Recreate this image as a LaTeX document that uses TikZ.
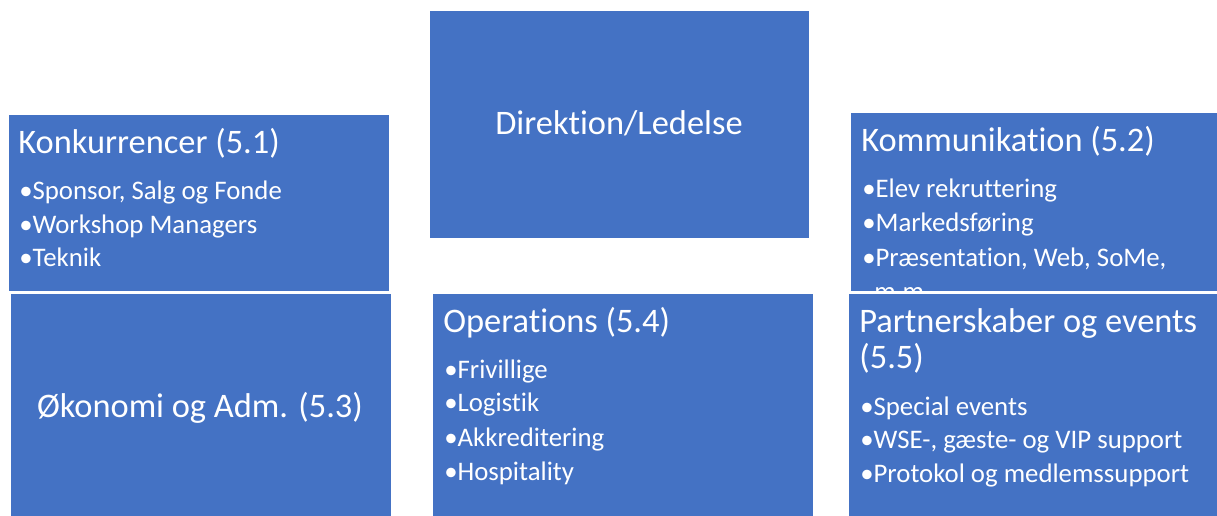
\documentclass[tikz,border=0pt]{standalone}
\usepackage{fontspec}
\setmainfont{Carlito}[Ligatures=NoCommon]
\usepackage{xcolor}
\usetikzlibrary{positioning}

\definecolor{boxblue}{HTML}{4472C4}
\newcommand{\blt}{\makebox[6.6pt][l]{•}}

\tikzset{
    box/.style={fill=boxblue, draw=white, line width=0.5pt, anchor=north west, inner sep=0pt},
    title/.style={text=white, inner sep=0pt, anchor=base west, font=\fontsize{17.2}{21}\selectfont},
    item/.style={text=white, inner sep=0pt, anchor=base west, font=\fontsize{13.4}{16}\selectfont}
}

\begin{document}
\begin{tikzpicture}[x=0.5pt, y=-0.5pt]
    \useasboundingbox (0,0) rectangle (1217,515);

    % Direktion
    \node[box, minimum width=190pt, minimum height=114pt] (dir) at (429,10) {};
    \node[title, anchor=base] (dir-t) at (619,134) {Direktion/Ledelse};

    % Konkurrencer
    \node[box, minimum width=190.5pt, minimum height=88.5pt] (konk) at (8,114) {};
    \node[title] (konk-t) at (18,153) {Konkurrencer (5.1)};
    \node[item] (konk-1) at (19,199) {\blt Sponsor, Salg og Fonde};
    \node[item] (konk-2) at (19,233) {\blt Workshop Managers};
    \node[item] (konk-3) at (19,266) {\blt Teknik};

    % Kommunikation
    \node[box, minimum width=190pt, minimum height=89.5pt] (komm) at (850,112) {};
    \begin{scope}
        \clip (850,112) rectangle (1217,291);
        \node[title] (komm-t) at (861,151) {Kommunikation (5.2)};
        \node[item] (komm-1) at (862,197) {\blt Elev rekruttering};
        \node[item] (komm-2) at (862,231) {\blt Markedsføring};
        \node[item] (komm-3) at (862,266) {\blt Præsentation, Web, SoMe,};
        \node[item] (komm-4) at (874,300) {m.m.};
    \end{scope}

    % Oekonomi
    \node[box, minimum width=190.5pt, minimum height=115pt] (oko) at (10,293) {};
    \node[title, anchor=base] (oko-t) at (200,417) {Økonomi og Adm. (5.3)};

    % Operations
    \node[box, minimum width=190.5pt, minimum height=115pt] (oper) at (432,293) {};
    \node[title] (oper-t) at (443,332) {Operations (5.4)};
    \node[item] (oper-1) at (444,378) {\blt Frivillige};
    \node[item] (oper-2) at (444,411) {\blt Logistik};
    \node[item] (oper-3) at (444,446) {\blt Akkreditering};
    \node[item] (oper-4) at (444,480) {\blt Hospitality};

    % Partnerskaber
    \node[box, minimum width=190pt, minimum height=115pt] (part) at (848,293) {};
    \node[title] (part-t) at (859,332) {Partnerskaber og events};
    \node[title] (part-t2) at (859,368) {(5.5)};
    \node[item] (part-1) at (860,415) {\blt Special events};
    \node[item] (part-2) at (860,448) {\blt WSE-, gæste- og VIP support};
    \node[item] (part-3) at (860,482) {\blt Protokol og medlemssupport};
\end{tikzpicture}
\end{document}
